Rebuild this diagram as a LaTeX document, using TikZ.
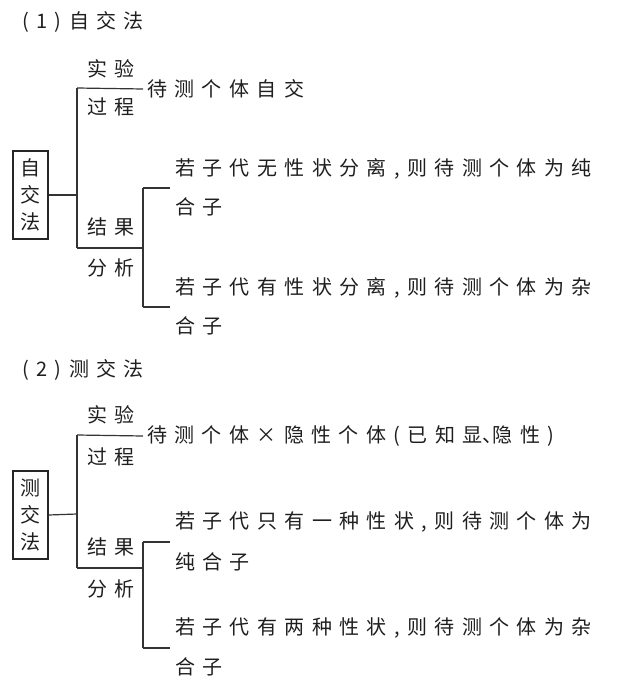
\documentclass[tikz,border=0pt]{standalone}
\usepackage{fontspec}
\newfontfamily\cjk{Noto Sans CJK SC}
\newfontfamily\cjksp[LetterSpace=37]{Noto Sans CJK SC}
\newcommand\narrowdun{\makebox[10pt][l]{\cjk 、}}
\begin{document}
\begin{tikzpicture}[x=1pt,y=-1pt,
  txt/.style={anchor=west, inner sep=0pt, font=\cjksp\fontsize{20}{24}\selectfont, text=black!88},
  lead/.style={txt, inner xsep=4pt},
  boxnode/.style={draw=black!85, line width=1.3pt, minimum width=35pt, minimum height=88pt, inner sep=0pt, align=center, font=\cjk\fontsize{20}{27}\selectfont, text=black!88},
  ln/.style={line width=1.2pt, draw=black!80}]
\path[use as bounding box] (0,0) rectangle (616,687);

% ---------- (1) ----------
\node[txt] (h1) at (22,22) {(1)自交法};
\node[boxnode] (b1) at (30.5,195) {自\\交\\法};
\node[txt] (l1a) at (87,69) {实验};
\node[txt] (l1b) at (87,107) {过程};
\node[txt] (l1c) at (87,227) {结果};
\node[txt] (l1d) at (87,268) {分析};
\node[lead] (p1) at (143,89) {待测个体自交};
\node[txt] (r1a) at (175,169) {若子代无性状分离,则待测个体为纯};
\node[txt] (r1b) at (175,207) {合子};
\node[txt] (r1c) at (175,288) {若子代有性状分离,则待测个体为杂};
\node[txt] (r1d) at (175,326) {合子};

\coordinate (j1) at (77,195);
\coordinate (t1) at (77,88);
\coordinate (u1) at (77,248);
\coordinate (v1) at (143,248);
\coordinate (v1t) at (143,188);
\coordinate (v1b) at (143,307);
\coordinate (e1t) at (170,188);
\coordinate (e1b) at (170,307);
\draw[ln] (b1.east) -- (j1);
\draw[ln] (t1) -- (u1);
\draw[ln] (t1) -- (p1.west);
\draw[ln] (u1) -- (v1);
\draw[ln] (v1t) -- (v1b);
\draw[ln] (v1t) -- (e1t);
\draw[ln] (v1b) -- (e1b);

% ---------- (2) ----------
\node[txt] (h2) at (22,370) {(2)测交法};
\node[boxnode] (b2) at (30.5,515) {测\\交\\法};
\node[txt] (l2a) at (87,415) {实验};
\node[txt] (l2b) at (87,457) {过程};
\node[txt] (l2c) at (87,547) {结果};
\node[txt] (l2d) at (87,589) {分析};
\node[lead] (p2) at (143,436) {待测个体×隐性个体(已知显\narrowdun 隐性)};
\node[txt] (r2a) at (175,522) {若子代只有一种性状,则待测个体为};
\node[txt] (r2b) at (175,562) {纯合子};
\node[txt] (r2c) at (175,628) {若子代有两种性状,则待测个体为杂};
\node[txt] (r2d) at (175,667) {合子};

\coordinate (j2) at (77,514);
\coordinate (t2) at (77,435);
\coordinate (u2) at (77,568);
\coordinate (v2) at (143,568);
\coordinate (v2t) at (143,542);
\coordinate (v2b) at (143,648);
\coordinate (e2t) at (170,542);
\coordinate (e2b) at (170,648);
\draw[ln] (b2.east) -- (j2);
\draw[ln] (t2) -- (u2);
\draw[ln] (t2) -- (p2.west);
\draw[ln] (u2) -- (v2);
\draw[ln] (v2t) -- (v2b);
\draw[ln] (v2t) -- (e2t);
\draw[ln] (v2b) -- (e2b);
\end{tikzpicture}
\end{document}
